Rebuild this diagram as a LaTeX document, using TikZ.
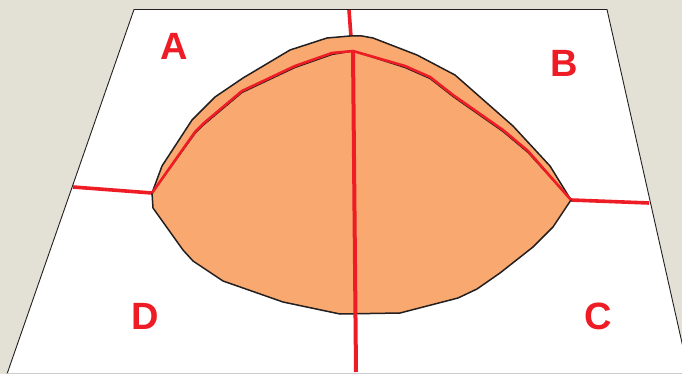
\documentclass[tikz,border=0pt]{standalone}
\usepackage{fontspec}
\setsansfont{Liberation Sans}
\usepackage{tikz}
\usetikzlibrary{calc}
\definecolor{paper}{HTML}{E3E1D5}
\definecolor{lensfill}{HTML}{F9A96F}
\definecolor{cutred}{HTML}{EE1C25}
\definecolor{edge}{HTML}{231F20}
\tikzset{
  cutline/.style={cutred,line width=3.6pt},
  foldline/.style={cutred,line width=2.6pt},
  quadrant/.style={cutred,inner sep=0pt,font=\sffamily\bfseries\fontsize{38}{38}\selectfont}
}

\begin{document}
\begin{tikzpicture}[x=1pt,y=-1pt,line join=round]
  \useasboundingbox (0,0) rectangle (682,374);
  % Background
  \fill[paper] (0,0) rectangle (682,374);
  \clip (0,0) rectangle (682,374);

  % Plane
  \draw[edge,fill=white,line width=0.9pt] (134,9.5) -- (607,9.5) -- (689,374) -- (7,374) -- cycle;
  \draw[gray!40,line width=0.8pt] (7,373.6) -- (682,373.6);

  % Junctions
  \coordinate (west) at (152,193);
  \coordinate (east) at (571,200);
  \coordinate (apex) at (353,51);

  % Cut lines outside the body
  \draw[cutline] (73,187) -- (west);
  \draw[cutline] (east) -- (649,203);
  \draw[cutline] (349,10) -- (351,37);

  % Body outline
  \draw[edge,fill=lensfill,line width=1.5pt]
    (west) -- (162,166) -- (192,120) -- (215,97) -- (243,78) -- (290,50)
    -- (327,38) -- (350,36) -- (362,36) -- (373,38) -- (417,55) -- (455,75)
    -- (513,126) -- (550,166) -- (east) -- (553,227) -- (533,247) -- (500,273)
    -- (477,289) -- (458,298) -- (400,313) -- (340,314) -- (283,302)
    -- (223,281) -- (193,261) -- (183,250) -- (153,208) -- cycle;

  % Fold line, dark edge then red
  \draw[edge,line width=1.2pt,yshift=-1.6pt]
    (west) -- (195,132) -- (204,123) -- (242,91) -- (295,66) -- (332,53)
    -- (apex) -- (405,66) -- (430,77) -- (453,95) -- (503,130) -- (528,151) -- (east);
  \draw[foldline]
    (west) -- (195,132) -- (204,123) -- (242,91) -- (295,66) -- (332,53)
    -- (apex) -- (405,66) -- (430,77) -- (453,95) -- (503,130) -- (528,151) -- (east);

  % Vertical cut
  \draw[cutline,line width=4pt] (apex) -- (356,372);

  % Labels
  \node[quadrant] (labelA) at (174,46) {A};
  \node[quadrant] (labelB) at (564,63) {B};
  \node[quadrant] (labelC) at (598,316) {C};
  \node[quadrant] (labelD) at (145,316) {D};
\end{tikzpicture}
\end{document}
